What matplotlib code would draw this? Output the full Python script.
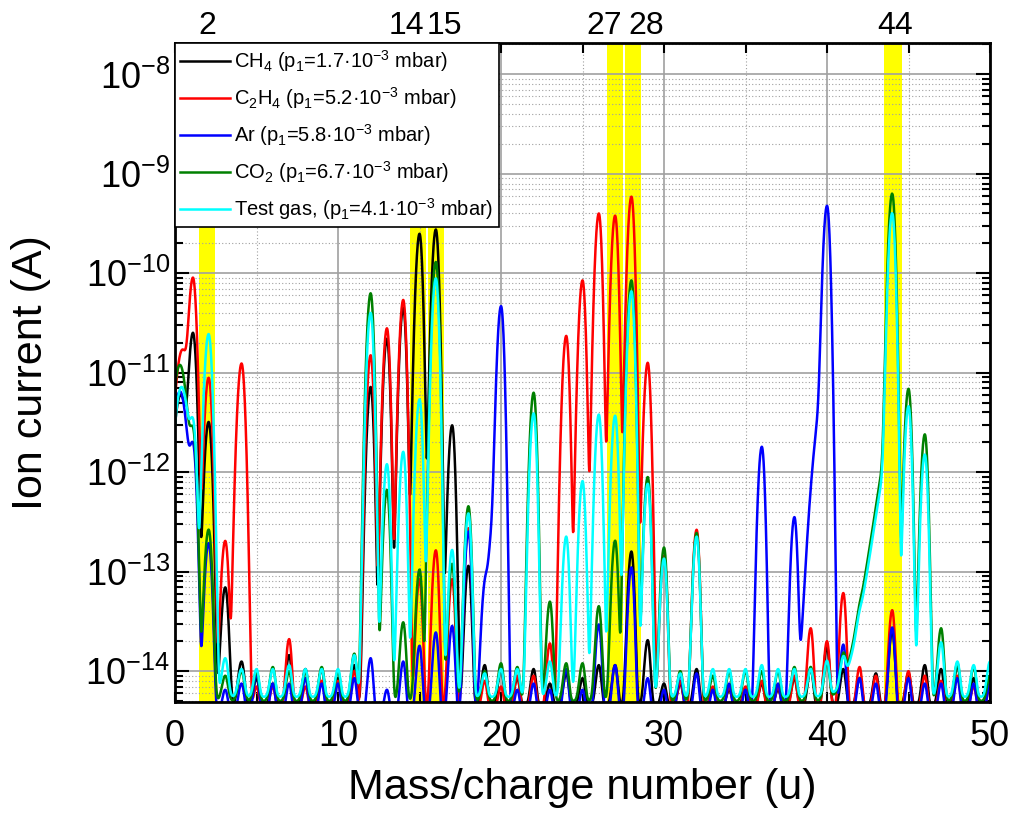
import numpy as np
import matplotlib.pyplot as plt
from matplotlib.ticker import LogLocator, MultipleLocator, NullFormatter

plt.rcParams['font.family'] = ['Liberation Sans', 'DejaVu Sans']
plt.rcParams['mathtext.default'] = 'regular'
plt.rcParams['axes.unicode_minus'] = False

# Peak positions (u) and peak heights in units of 1e-14 A, masses 1..50
mz = np.array([1.1, 2.06, 3.08, 4.08] + list(range(5, 51)), dtype=float)

ch4 = [2500, 320, 6.5, 0.8, 0.4, 0.3, 1.0, 0.6, 0.6, 0.4,
       0.7, 720, 2200, 4500, 25000, 27600, 296, 11, 0.7, 0.6,
       0.4, 0.6, 0.3, 0.5, 0.4, 0.7, 0.7, 15.5, 1.6, 0.3,
       0.3, 0.6, 0.2, 0.2, 0.2, 0.3, 0.2, 0.4, 0.6, 1.3,
       0.6, 0.4, 0.5, 2.1, 0.5, 0.7, 0.6, 0.7, 0.4, 0.3]
c2h4 = [8900, 890, 20, 1240, 0.3, 0.3, 1.7, 0.3, 0.4, 0.4,
        0.6, 1500, 2800, 5400, 8, 16, 8, 27, 0.4, 0.3,
        0.5, 0.5, 1.5, 2350, 8500, 40000, 38000, 59000, 1260, 14,
        0.4, 26, 0.3, 0.3, 0.3, 0.4, 0.3, 0.5, 2.3, 1.6,
        5.7, 0.7, 0.5, 3.7, 0.6, 0.5, 0.4, 0.5, 0.3, 0.3]
ar = [180, 19, 0.3, 0.4, 0.6, 0.4, 0.4, 0.5, 0.4, 0.4,
      0.5, 1.0, 0.3, 0.9, 1.45, 2.1, 2.5, 25, 4.5, 4600,
      0.3, 0.4, 0.3, 0.7, 0.3, 2.6, 0.8, 10.7, 0.5, 0.3,
      0.6, 0.6, 0.3, 0.4, 0.3, 180, 0.4, 35, 0.5, 47000,
      1.5, 0.5, 0.4, 2.4, 0.5, 0.4, 0.4, 0.5, 0.4, 0.4]
co2 = [250, 26, 0.4, 0.5, 0.5, 0.6, 0.5, 0.5, 0.6, 0.5,
       1.0, 6300, 66, 2.6, 10, 13000, 11.5, 45, 0.5, 0.7,
       0.6, 630, 4.5, 0.7, 0.7, 4.0, 20, 8500, 89, 17,
       0.5, 24, 0.4, 0.5, 0.5, 0.5, 0.5, 0.6, 0.6, 0.7,
       0.7, 0.5, 0.5, 63000, 690, 240, 2.2, 0.7, 0.6, 0.4]
test_gas = [300, 2450, 0.8, 0.5, 0.5, 0.5, 0.6, 0.5, 0.5, 0.5,
            0.9, 4000, 120, 160, 540, 8900, 16, 38, 0.4, 0.5,
            0.5, 390, 0.7, 22, 81, 380, 370, 6600, 76, 13,
            0.4, 22, 0.5, 0.5, 0.5, 0.6, 0.5, 0.5, 0.5, 0.7,
            0.6, 0.5, 0.5, 40000, 460, 150, 1.4, 0.7, 0.6, 0.7]

# zero-mass blast near 0 u: centre and height (1e-14 A)
zero_pos = [0.35, 0.45, 0.3, 0.3, 0.4]
zero_height = [600, 1700, 650, 1200, 720]
# flat noise floor of each scan (1e-14 A)
floor = [0.45, 0.4, 0.35, 0.5, 0.55]
# broad shoulders on the Ar peaks: centre, height, width
ar_broad_pos = [20, 40]
ar_broad_height = [80, 800]
ar_broad_width = [0.4, 0.45]
# low-mass tail of m/z 44 for CO2 and test gas
tail_height = [0, 0, 0, 500, 400]
tail_pos = 44
tail_len = 0.41

labels = ['CH$_4$ (p$_1$=1.7·10$^{-3}$ mbar)',
          'C$_2$H$_4$ (p$_1$=5.2·10$^{-3}$ mbar)',
          'Ar (p$_1$=5.8·10$^{-3}$ mbar)',
          'CO$_2$ (p$_1$=6.7·10$^{-3}$ mbar)',
          'Test gas, (p$_1$=4.1·10$^{-3}$ mbar)']
colors = ['black', 'red', 'blue', 'green', 'cyan']

bands = [(1.45, 2.47), (14.42, 15.4), (15.54, 16.5), (26.52, 27.5), (27.6, 28.57), (43.52, 44.58)]
top_labels = ['2', '14', '15', '27', '28', '44']
top_label_pos = [2.0, 14.2, 16.5, 26.3, 28.9, 44.2]

x = np.linspace(0, 50, 5001)


def peak(c, h, sl=0.16, sr=0.13):
    s = np.where(x < c, sl, sr)
    return h * np.exp(-0.5 * ((x - c) / s) ** 2)


def spectrum(i, heights):
    y = np.full_like(x, floor[i])
    for c, h in zip(mz, heights):
        if c < 5:
            y += peak(c, h, 0.18, 0.15)
        else:
            y += peak(c, h)
    y += peak(zero_pos[i], zero_height[i], 0.3, 0.3)
    if tail_height[i] > 0:
        y += np.where(x < tail_pos, tail_height[i] * np.exp((x - tail_pos) / tail_len), 0)
    if i == 2:
        for c, h, w in zip(ar_broad_pos, ar_broad_height, ar_broad_width):
            y += peak(c, h, w, 0.13)
    return y * 1e-14


fig = plt.figure(figsize=(10.13, 8.19), dpi=100)
ax = fig.add_axes([0.1728, 0.1429, 0.8045, 0.8046])

for lo, hi in bands:
    ax.axvspan(lo, hi, color='yellow', lw=0, zorder=0.5)

for i, series in enumerate([ch4, c2h4, ar, co2, test_gas]):
    ax.plot(x, spectrum(i, series), color=colors[i], lw=1.8, label=labels[i], zorder=2)

ax.set_yscale('log')
ax.set_xlim(0, 50)
ax.set_ylim(4.9e-15, 2.07e-8)
ax.xaxis.set_major_locator(MultipleLocator(10))
ax.xaxis.set_minor_locator(MultipleLocator(5))
ax.yaxis.set_major_locator(LogLocator(base=10, numticks=20))
ax.yaxis.set_minor_locator(LogLocator(base=10, subs=np.arange(2, 10), numticks=20))
ax.yaxis.set_minor_formatter(NullFormatter())

ax.grid(True, which='major', color='#a0a0a0', lw=1.2, zorder=1)
ax.grid(True, which='minor', color='#a0a0a0', lw=0.8, ls=(0, (1, 2)), zorder=1)
ax.set_axisbelow(True)

ax.tick_params(which='both', direction='in', top=True, right=True, labelsize=26, width=1.5)
ax.tick_params(which='major', length=10)
ax.tick_params(which='minor', length=6)
ax.tick_params(axis='x', which='both', length=7, pad=12)
for s in ax.spines.values():
    s.set_linewidth(2)

ax.set_xlabel('Mass/charge number (u)', fontsize=31, labelpad=10)
ax.set_ylabel('Ion current (A)', fontsize=31)
ax.yaxis.set_label_coords(-0.152, 0.5)

for t, p in zip(top_labels, top_label_pos):
    ax.text(p, 1.003, t, transform=ax.get_xaxis_transform(), ha='center', va='bottom', fontsize=23)

leg = ax.legend(loc='upper left', bbox_to_anchor=(0, 1), borderaxespad=0, fontsize=14.5,
                handlelength=2.5, handletextpad=0.2, labelspacing=0.55, borderpad=0.25,
                fancybox=False, framealpha=1, edgecolor='black')
leg.get_frame().set_linewidth(1.2)
leg.set_zorder(5)

fig.savefig('out.png', dpi=100)
